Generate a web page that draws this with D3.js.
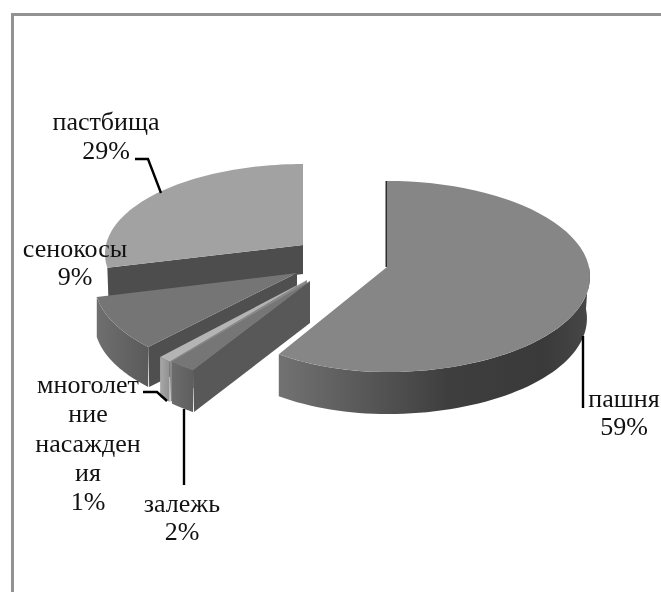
<!DOCTYPE html>
<html><head><meta charset="utf-8">
<script src="https://cdn.jsdelivr.net/npm/d3@7"></script>
<style>html,body{margin:0;padding:0;background:#fff;overflow:hidden}svg{display:block;filter:blur(0.45px)}
text{font-family:"Liberation Serif",serif;font-size:26px;fill:#111;text-anchor:middle}</style>
</head><body><svg id="c" width="661" height="592"></svg>
<script>
const categories = ["пашня","залежь","многолетние насаждения","сенокосы","пастбища"];
const shares = [59,2,1,9,29];
const labelLines = [["пашня"],["залежь"],["многолет","ние","насажден","ия"],["сенокосы"],["пастбища"]];

const topColors = ["#868686","#767676","#b4b4b4","#757575","#a2a2a2"];
const cutColors = ["#2e2e2e","#585858","#8a8a8a","#4f4f4f","#4d4d4d"];
const wallStops = [
  [["0","#727272"],["0.55","#3e3e3e"],["0.85","#3a3a3a"],["1","#474747"]],
  [["0","#6c6c6c"],["1","#5e5e5e"]],
  [["0","#a8a8a8"],["1","#909090"]],
  [["0","#6f6f6f"],["1","#5a5a5a"]]
];
// per-slice projection: apex, horizontal radius left/right, vertical radius, rim depth
const apexX = [387,310,307,297,303];
const apexY = [267,281,280,273,245];
const radiusLeft = [185,200,199,201.6,197];
const radiusRight = [202,200,199,201.6,197];
const radiusDepth = [94.6,96.6,98,94,89];
const depth = [42,42,40,40,29];
const K = 0.0995;

const pie = d3.pie().sort(null).value(d=>d).startAngle(0).endAngle(2*Math.PI)(shares);

function proj(i,th,r=1,dz=0,shrink=1){
  const u=Math.sin(th),v=Math.cos(th),s=1/(1+K*v*r);
  const R=u>=0?radiusRight[i]*shrink:radiusLeft[i];
  return [apexX[i]+R*u*r*s, apexY[i]-radiusDepth[i]*v*r*s+dz];
}
const line=d3.line();
const sweep=(i,a,b,dz,shrink)=>d3.range(0,61).map(t=>proj(i,a+(b-a)*t/60,1,dz,shrink));

const svg=d3.select("#c");
const defs=svg.append("defs");
wallStops.forEach((st,i)=>{
  const g=defs.append("linearGradient").attr("id","w"+i);
  st.forEach(([o,c])=>g.append("stop").attr("offset",o).attr("stop-color",c));
});

// chart frame: only the top and left edges fall inside the crop
svg.append("path").attr("d","M12.5,592V14.5H661").attr("fill","none").attr("stroke","#929292").attr("stroke-width",3);

[4,3,2,1,0].forEach(i=>{
  const p=pie[i], g=svg.append("g").attr("class","slice");
  const a=p.startAngle,b=p.endAngle,d=depth[i];
  if(i>0){
    const o=[apexX[i],apexY[i]], e=proj(i,a);
    g.append("path").attr("d",line([o,e,[e[0]+1,e[1]+d],[o[0],o[1]+d]])+"Z").attr("fill",cutColors[i]);
  }
  const wa=Math.max(a,Math.PI/2), wb=Math.min(b,3*Math.PI/2);
  if(wb>wa && wallStops[i]){
    const pts=sweep(i,wa,wb,0,1).concat(sweep(i,wb,wa,d,0.985));
    g.append("path").attr("d",line(pts)+"Z").attr("fill",`url(#w${i})`);
  }
  const o=[apexX[i],apexY[i]];
  g.append("path").attr("d",line([o].concat(sweep(i,a,b,0,1)))+"Z").attr("fill",topColors[i]);
  if(i===0){
    const t=proj(0,0);
    g.append("path").attr("d",line([t,o,[o[0]-1.5,o[1]],[t[0]-1.5,t[1]]])+"Z").attr("fill",cutColors[0]);
  }
});

const leaders=[
  [[583,336],[583,408]],
  [[184,409],[184,485]],
  [[143,392],[157,392],[167,401]],
  null,
  [[135,159],[148,159],[161,193]]
];
leaders.forEach(l=>{ if(l) svg.append("path").attr("d",line(l)).attr("fill","none").attr("stroke","#000").attr("stroke-width",2.4); });

const labelX=[624,182,88,75,106];
const labelY=[407,512,393,257,130];
const labelStep=[28,28,29.3,28,29];
categories.forEach((c,i)=>{
  const lines=labelLines[i].concat([shares[i]+"%"]);
  lines.forEach((t,j)=>svg.append("text").attr("x",labelX[i]).attr("y",labelY[i]+j*labelStep[i]).text(t));
});
</script></body></html>
